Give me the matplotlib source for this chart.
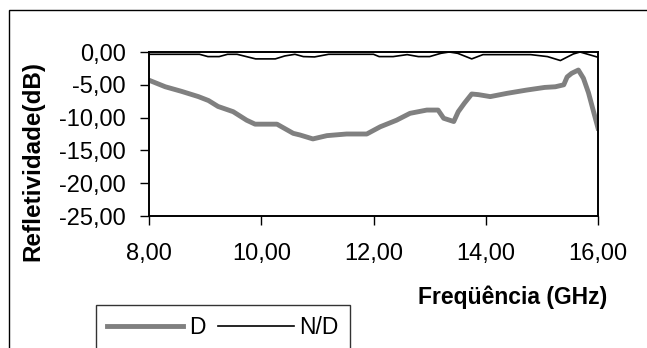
import matplotlib
matplotlib.use("Agg")
import matplotlib.pyplot as plt
from matplotlib.ticker import FuncFormatter, FixedLocator
from matplotlib.patches import Rectangle

plt.rcParams['font.family'] = ['Liberation Sans', 'DejaVu Sans']

# ---- data ----
freq_D = [8.0, 8.29, 8.58, 8.88, 9.06, 9.23, 9.5, 9.74, 9.89, 10.28, 10.57, 10.69,
          10.92, 11.17, 11.52, 11.88, 12.12, 12.41, 12.65, 12.95, 13.15, 13.25,
          13.43, 13.51, 13.62, 13.75, 13.87, 14.08, 14.38, 14.73, 15.05, 15.24,
          15.39, 15.45, 15.53, 15.65, 15.74, 15.83, 16.0]
D = [-4.3, -5.3, -6.0, -6.8, -7.4, -8.3, -9.1, -10.4, -11.0, -11.0, -12.4, -12.65,
     -13.25, -12.75, -12.5, -12.5, -11.4, -10.4, -9.35, -8.85, -8.85, -10.1,
     -10.6, -9.1, -7.8, -6.4, -6.5, -6.8, -6.3, -5.8, -5.4, -5.3,
     -5.0, -3.8, -3.25, -2.75, -4.0, -6.2, -11.6]

freq_ND = [8.0, 8.9, 9.05, 9.25, 9.4, 9.57, 9.9, 10.25, 10.42, 10.6, 10.75, 10.95,
           11.2, 12.0, 12.1, 12.35, 12.6, 12.8, 13.0, 13.2, 13.35, 13.5, 13.75,
           13.95, 14.8, 15.1, 15.33, 15.56, 15.68, 15.98, 16.0]
ND = [-0.35, -0.35, -0.7, -0.7, -0.35, -0.35, -1.05, -1.05, -0.6, -0.35, -0.7, -0.75,
      -0.35, -0.35, -0.7, -0.7, -0.4, -0.7, -0.7, -0.2, 0.0, -0.2, -1.05,
      -0.4, -0.4, -0.7, -1.3, -0.3, 0.0, -0.75, -0.8]

x_ticks = [8, 10, 12, 14, 16]
y_ticks = [0, -5, -10, -15, -20, -25]
series_names = ["D", "N/D"]

W, H = 647, 348
fig = plt.figure(figsize=(W / 100, H / 100), dpi=100)
fig.patch.set_facecolor('white')

# outer chart border (extends beyond right/bottom edges)
fig.patches.append(Rectangle((9 / W, -0.1), 1.2, 1 - 10 / H + 0.1,
                             transform=fig.transFigure, fill=False,
                             edgecolor='black', linewidth=1.0))

ax = fig.add_axes([149 / W, 1 - 216 / H, (598 - 149) / W, (216 - 52) / H])
ax.plot(freq_D, D, color='#808080', linewidth=3.5, label=series_names[0])
ax.plot(freq_ND, ND, color='black', linewidth=1.2, label=series_names[1])

ax.set_xlim(8, 16)
ax.set_ylim(-25, 0)
ax.xaxis.set_major_locator(FixedLocator(x_ticks))
ax.yaxis.set_major_locator(FixedLocator(y_ticks))
fmt = FuncFormatter(lambda v, p: f"{v:.2f}".replace('.', ','))
ax.xaxis.set_major_formatter(fmt)
ax.yaxis.set_major_formatter(fmt)
ax.tick_params(direction='out', length=6.5, width=1, labelsize=17, colors='black')
ax.tick_params(axis='y', pad=10)
ax.tick_params(axis='x', pad=13)
for s in ax.spines.values():
    s.set_color('black')
    s.set_linewidth(1.4)

fig.text(513 / W, 1 - 297 / H, "Freqüência (GHz)", ha='center', va='center',
         fontsize=16.5, fontweight='bold')
fig.text(33 / W, 1 - 161 / H, "Refletividade(dB)", ha='center', va='center',
         rotation=90, fontsize=17.5, fontweight='bold')

leg = fig.legend(loc='upper left', bbox_to_anchor=(96 / W, 1 - 305 / H),
                 ncol=2, fontsize=16.5, frameon=True, fancybox=False,
                 handlelength=3.3, handletextpad=0.25, columnspacing=0.55,
                 borderpad=0.5, borderaxespad=0)
leg.get_frame().set_edgecolor('black')
leg.get_frame().set_linewidth(1.0)

fig.savefig("out.png", dpi=100, facecolor='white')
